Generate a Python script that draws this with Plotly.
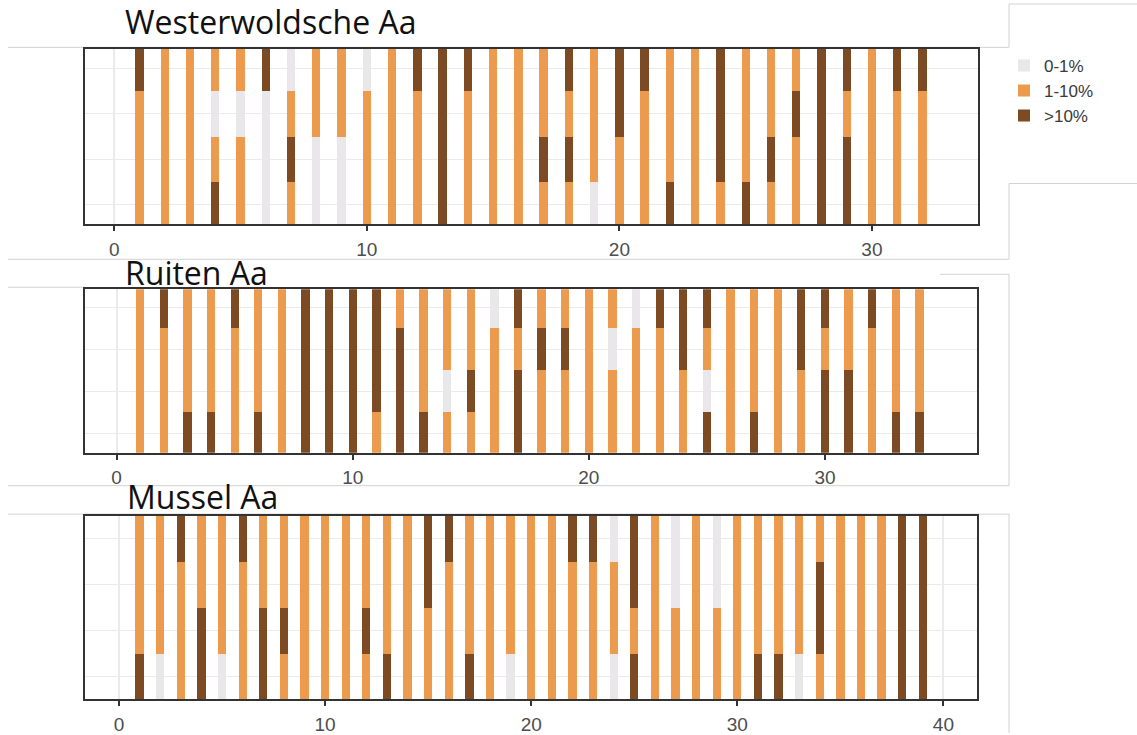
import plotly.graph_objects as go

W, H = 1137, 735

# ---------------- data ----------------
categories = ["0-1%", "1-10%", ">10%"]
code_of = {"L": "0-1%", "O": "1-10%", "B": ">10%"}
rows_top_to_bottom = [3, 2, 1, 0]

panel_titles = ["Westerwoldsche Aa", "Ruiten Aa", "Mussel Aa"]

# each string = class of the 4 rows of one column, top to bottom
westerwoldsche_x = list(range(1, 33))
westerwoldsche_cells = [
    "BOOO", "OOOO", "OOOO", "OLOB", "OLOO", "BLLL", "LOBO", "OOLL",
    "OOLL", "LOOO", "OOOO", "BOOO", "BBBB", "BOOO", "OOOO", "OOOO",
    "OOBO", "BOBO", "OOOL", "BBOO", "BOOO", "OOOB", "OOOO", "BBBO",
    "OOOB", "OOBO", "OBOO", "BBBB", "BOBB", "OOOO", "BOOO", "BOOO",
]

ruiten_x = list(range(1, 35))
ruiten_cells = [
    "OOOO", "BOOO", "OOOB", "OOOB", "BOOO", "OOOB", "OOOO", "BBBB",
    "BBBB", "BBBB", "BBBO", "OBBB", "OOOB", "OOLO", "OOBO", "LOOO",
    "BOBB", "OBOO", "OBOO", "OOOO", "OLOO", "LOOO", "BOOO", "BBOO",
    "BOLB", "OOOO", "OOOB", "OOOO", "BBOO", "BOBB", "OOBB", "BOOO",
    "OOOB", "OOOB",
]

mussel_x = list(range(1, 40))
mussel_cells = [
    "OOOB", "OOOL", "BOOO", "OOBB", "OOOL", "BOOO", "OOBB", "OOBO",
    "OOOO", "OOOO", "OOOO", "OOBO", "OOOB", "OOOO", "BBOO", "BOOO",
    "OOOB", "OOOO", "OOOL", "OOOO", "OOOO", "BOOO", "BOOO", "LOOL",
    "BBOB", "OOOO", "LLOO", "OOOO", "LLOO", "OOOO", "OOOB", "OOOB",
    "OOOL", "OBBO", "OOOO", "OOOO", "OOOO", "BBBB", "BBBB",
]

x_ticks = [[0, 10, 20, 30], [0, 10, 20, 30], [0, 10, 20, 30, 40]]

# ---------------- style ----------------
colors = {"0-1%": "#e9e7ea", "1-10%": "#ec9a4e", ">10%": "#7c4b24"}
panels_data = [
    (westerwoldsche_x, westerwoldsche_cells),
    (ruiten_x, ruiten_cells),
    (mussel_x, mussel_cells),
]
# pixel boxes (left, right, top, bottom) and axis ranges
boxes = [(85, 978, 49, 225), (85, 977, 290, 454), (85, 977, 517, 701)]
xranges = [[-1.16, 34.2], [-1.34, 36.44], [-1.65, 41.63]]
yranges = [[-0.43, 3.43], [-0.46, 3.44], [-0.5, 3.5]]
bar_px = 8.3

fig = go.Figure()
for p, (xs, cells) in enumerate(panels_data):
    l, r, t, b = boxes[p]
    units_per_px = (xranges[p][1] - xranges[p][0]) / (r - l)
    width = bar_px * units_per_px
    sfx = "" if p == 0 else str(p + 1)
    for cat in categories:
        bx, bb = [], []
        for xv, cell in zip(xs, cells):
            for k, ch in enumerate(cell):
                if code_of[ch] == cat:
                    bx.append(xv)
                    bb.append(rows_top_to_bottom[k] - 0.5)
        fig.add_trace(go.Bar(
            x=bx, y=[1] * len(bx), base=bb, width=width,
            marker=dict(color=colors[cat], line=dict(width=0)),
            name=cat, legendgroup=cat, showlegend=(p == 0),
            xaxis="x" + sfx, yaxis="y" + sfx,
        ))

layout = dict(
    width=W, height=H, margin=dict(l=0, r=0, t=0, b=0),
    paper_bgcolor="white", plot_bgcolor="white",
    barmode="overlay", bargap=0,
    showlegend=True,
    legend=dict(x=1004 / W, xanchor="left", y=1 - 48 / H, yanchor="top",
                font=dict(family="Liberation Sans, Arial", size=17, color="#3a3a3a"),
                bgcolor="rgba(0,0,0,0)", traceorder="normal"),
    font=dict(family="Liberation Sans, Arial"),
)

for p in range(3):
    l, r, t, b = boxes[p]
    sfx = "" if p == 0 else str(p + 1)
    layout["xaxis" + sfx] = dict(
        domain=[l / W, r / W], range=xranges[p], anchor="y" + sfx,
        tickvals=x_ticks[p], ticktext=[str(v) for v in x_ticks[p]],
        showgrid=True, gridcolor="#ebebeb", gridwidth=1.5,
        showline=True, mirror=True, linecolor="#333333", linewidth=1.5,
        ticks="outside", ticklen=5, tickwidth=1.5, tickcolor="#333333",
        tickfont=dict(family="Liberation Sans, Arial", size=19, color="#4d4d4d"),
        ticklabelstandoff=2, zeroline=False, fixedrange=True,
    )
    layout["yaxis" + sfx] = dict(
        domain=[1 - b / H, 1 - t / H], range=yranges[p], anchor="x" + sfx,
        tickvals=[0, 1, 2, 3], showticklabels=False, ticks="",
        showgrid=True, gridcolor="#ebebeb", gridwidth=1,
        showline=True, mirror=True, linecolor="#333333", linewidth=1.5,
        zeroline=False, fixedrange=True,
    )

title_pos = [(123, 22), (123, 273), (125, 498)]
annotations = []
for title, (tx, ty) in zip(panel_titles, title_pos):
    annotations.append(dict(
        text=title, x=tx / W, y=1 - ty / H, xref="paper", yref="paper",
        xanchor="left", yanchor="middle", showarrow=False,
        font=dict(family="Open Sans", size=32, color="#111111"),
    ))
layout["annotations"] = annotations

# faint frame lines of the composed screenshots
frame = [
    (8, 47.5, 1009, 47.5), (1009, 4, 1009, 47.5), (1009, 4, 1137, 4),
    (1009, 184, 1137, 184), (1009, 184, 1009, 260), (8, 260, 1009, 260),
    (8, 288, 85, 288), (940, 275, 1009, 275), (1009, 275, 1009, 487),
    (8, 487, 1009, 487), (8, 515.5, 1009, 515.5), (1009, 515.5, 1009, 735),
]
layout["shapes"] = [
    dict(type="line", xref="paper", yref="paper",
         x0=x0 / W, y0=1 - y0 / H, x1=x1 / W, y1=1 - y1 / H,
         line=dict(color="#d2d2d2", width=1), layer="below")
    for (x0, y0, x1, y1) in frame
]

fig.update_layout(**layout)
fig.write_html(
    "out.html",
    config={"displayModeBar": False},
    post_script="document.body.style.margin='0';document.body.style.overflow='hidden';",
)
